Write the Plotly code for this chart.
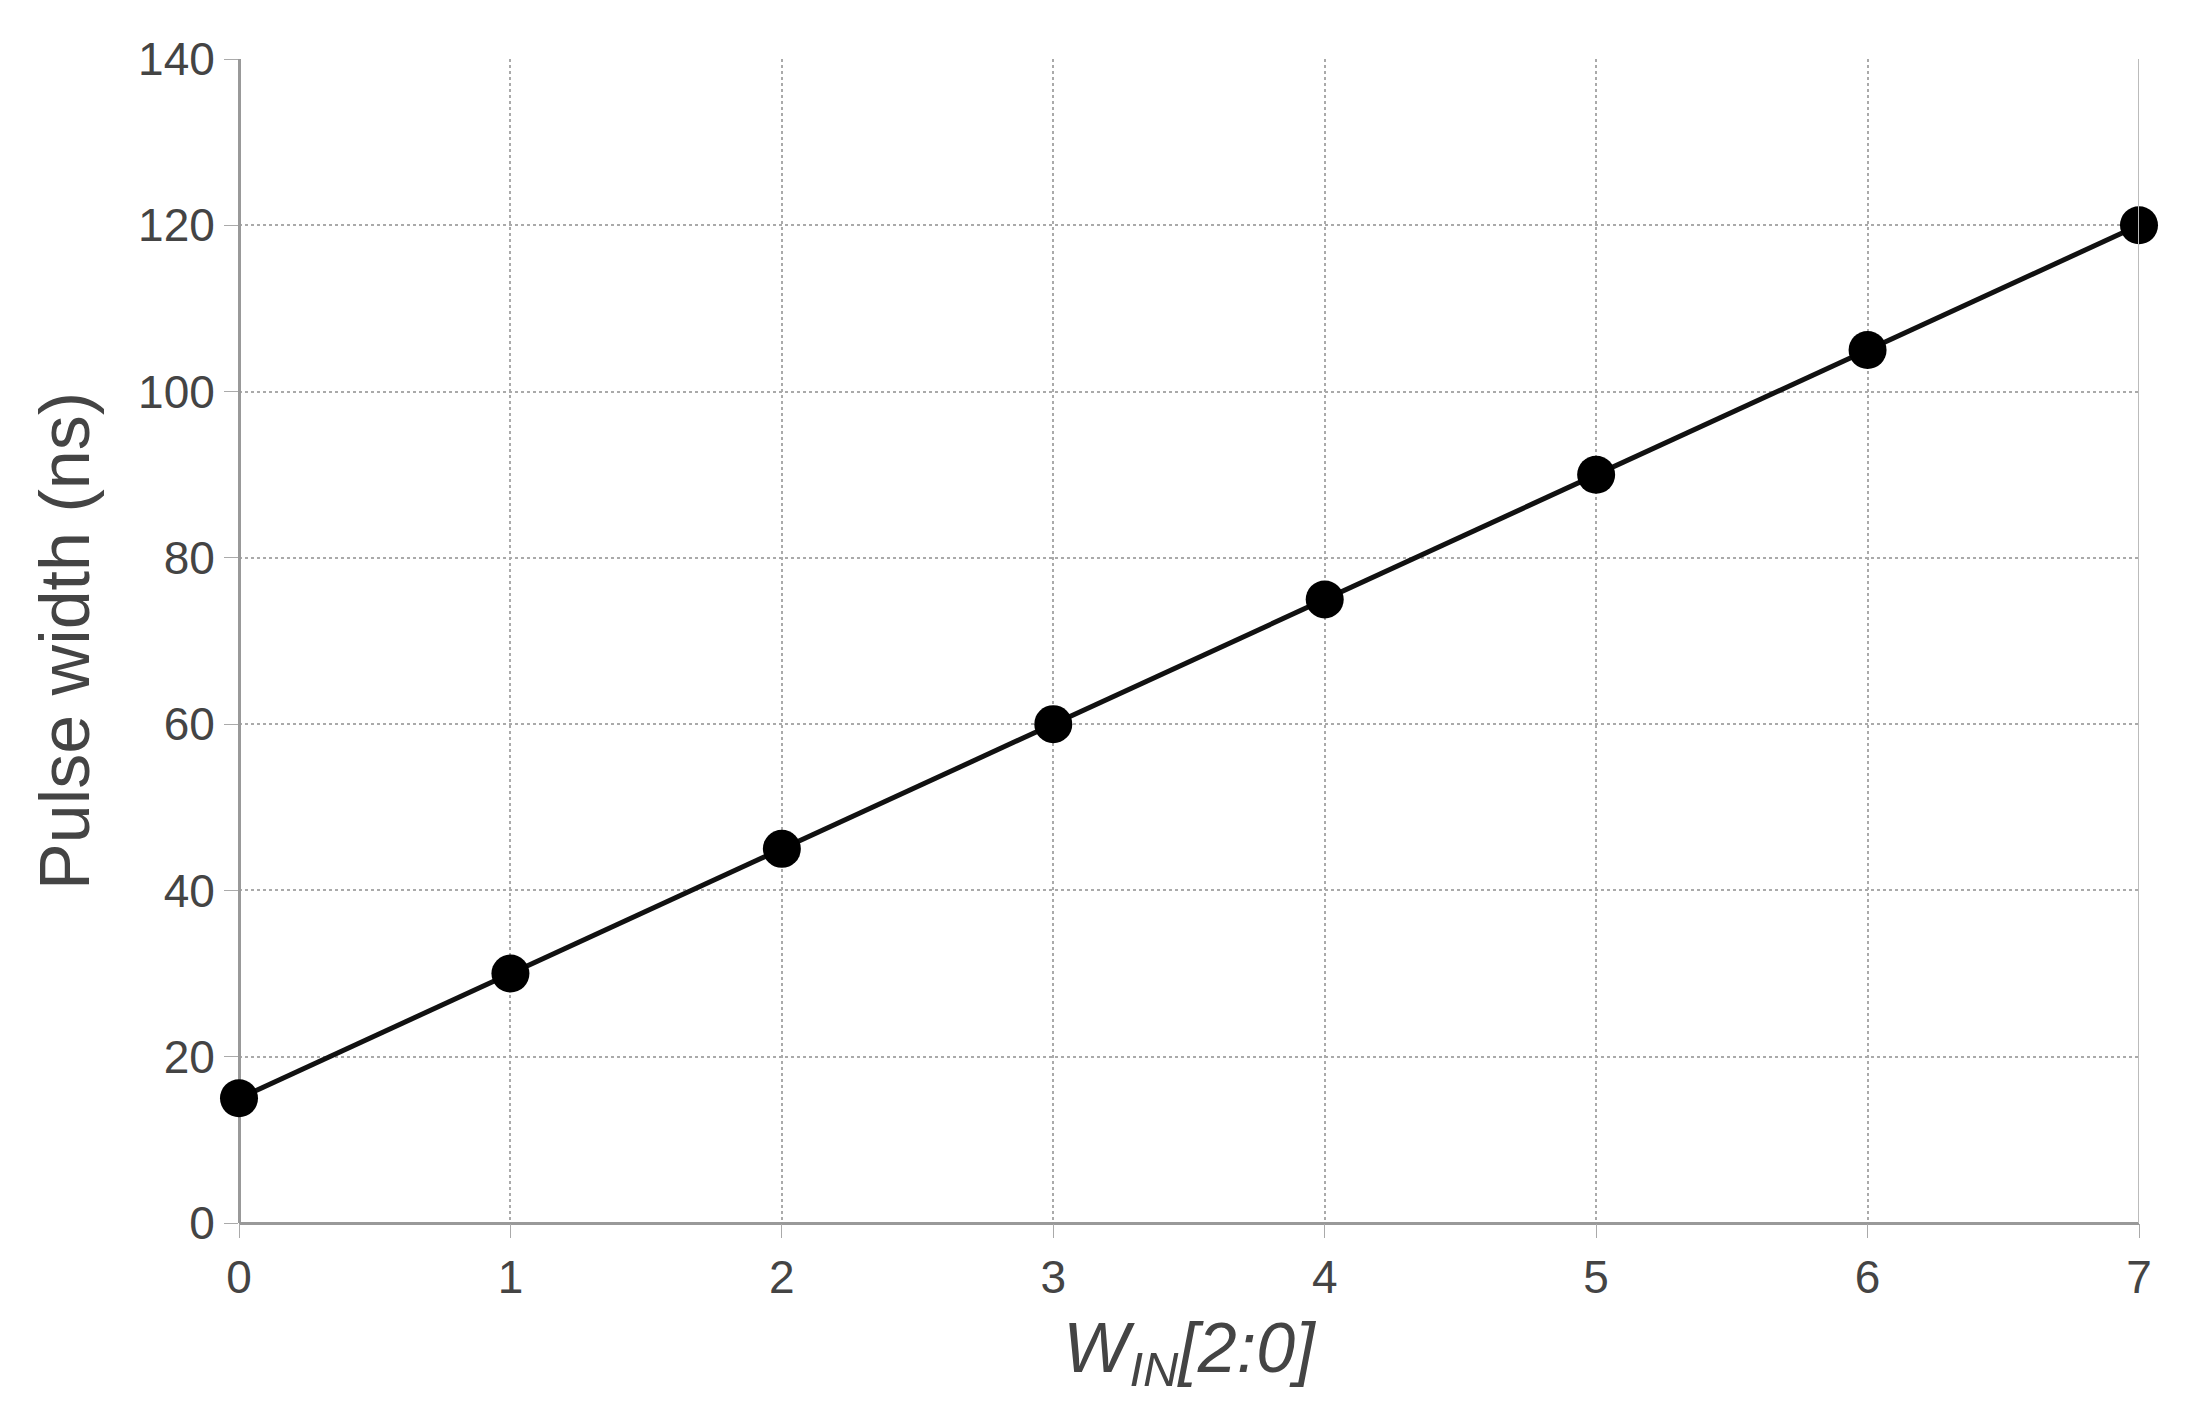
import plotly.graph_objects as go

x_vals = [0, 1, 2, 3, 4, 5, 6, 7]
pulse_ns = [15, 30, 45, 60, 75, 90, 105, 120]
y_ticks = [0, 20, 40, 60, 80, 100, 120, 140]

fig = go.Figure(go.Scatter(x=x_vals, y=pulse_ns, mode="lines+markers",
                           line=dict(color="#111", width=5), cliponaxis=False,
                           marker=dict(color="#000", size=38)))
fig.update_layout(
    width=2208, height=1423, plot_bgcolor="white", paper_bgcolor="white",
    margin=dict(l=231, r=77, t=51, b=208), showlegend=False,
    font=dict(family="Liberation Sans, Arial", color="#444"),
)
fig.update_xaxes(range=[0, 7], tickvals=x_vals, showgrid=True, gridcolor="#aaa",
                 griddash="dot", gridwidth=2, zeroline=True, zerolinecolor="#999",
                 zerolinewidth=3, ticks="outside", ticklen=14, tickcolor="#aaa",
                 tickfont=dict(size=46), showline=False,
                 title=dict(text="<i>W<sub>IN</sub>[2:0]</i>", font=dict(size=70), standoff=20))
fig.update_yaxes(range=[0, 140], tickvals=y_ticks, showgrid=True, gridcolor="#aaa",
                 griddash="dot", gridwidth=2, zeroline=True, zerolinecolor="#999",
                 zerolinewidth=3, ticks="outside", ticklen=14, tickcolor="#aaa",
                 tickfont=dict(size=46), showline=False,
                 title=dict(text="Pulse width (ns)", font=dict(size=70), standoff=25))
fig.add_vline(x=7, line=dict(color="#bbb", width=2))
fig.write_html("out.html")
